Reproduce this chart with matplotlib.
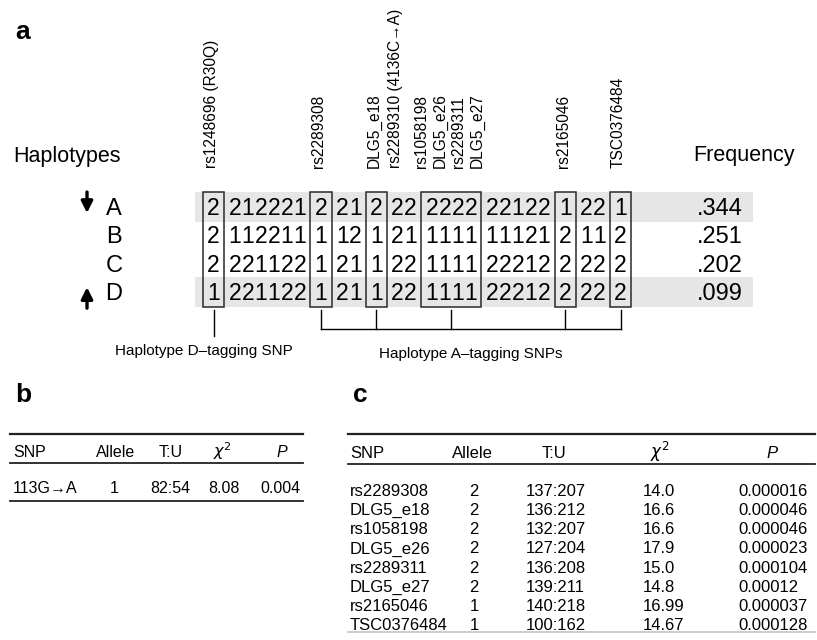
import matplotlib
matplotlib.use('Agg')
import matplotlib.pyplot as plt
from matplotlib.patches import Rectangle

plt.rcParams['font.family'] = ['Liberation Sans', 'DejaVu Sans']

# ---- panel a data ----
hap_names = ['A', 'B', 'C', 'D']
hap_alleles = ['2 212221 2 21 2 22 2222 22122 1 22 1',
               '2 112211 1 12 1 21 1111 11121 2 11 2',
               '2 221122 1 21 1 22 1111 22212 2 22 2',
               '1 221122 1 21 1 22 1111 22212 2 22 2']
hap_freq = ['.344', '.251', '.202', '.099']
hap_shaded = ['A', 'D']
hap_arrow = {'A': 'down', 'D': 'up'}
boxed_groups = [0, 2, 4, 6, 8, 10]
d_tag_groups = [0]
a_tag_groups = [2, 4, 6, 8, 10]
snp_labels = ['rs1248696 (R30Q)', 'rs2289308', 'DLG5_e18', 'rs2289310 (4136C\u2192A)',
              'rs1058198', 'DLG5_e26', 'rs2289311', 'DLG5_e27', 'rs2165046', 'TSC0376484']
snp_cols = [0, 7, 10, 11, 13, 14, 15, 16, 22, 25]

# ---- panel b data ----
b_header = ['SNP', 'Allele', 'T:U', r'$\chi^2$', 'P']
b_row = ['113G\u2192A', '1', '82:54', '8.08', '0.004']

# ---- panel c data ----
c_header = ['SNP', 'Allele', 'T:U', r'$\chi^2$', 'P']
c_snp = ['rs2289308', 'DLG5_e18', 'rs1058198', 'DLG5_e26', 'rs2289311', 'DLG5_e27',
         'rs2165046', 'TSC0376484']
c_allele = ['2', '2', '2', '2', '2', '2', '1', '1']
c_tu = ['137:207', '136:212', '132:207', '127:204', '136:208', '139:211', '140:218', '100:162']
c_chi2 = ['14.0', '16.6', '16.6', '17.9', '15.0', '14.8', '16.99', '14.67']
c_p = ['0.000016', '0.000046', '0.000046', '0.000023', '0.000104', '0.00012', '0.000037', '0.000128']

fig = plt.figure(figsize=(8.17, 6.4), dpi=100)
ax = fig.add_axes([0, 0, 1, 1])
ax.set_xlim(0, 817)
ax.set_ylim(640, 0)
ax.axis('off')

# ---------------- panel a ----------------
ax.text(15, 39, 'a', fontsize=19, fontweight='bold', va='baseline')
ax.text(13, 162, 'Haplotypes', fontsize=15.5, va='baseline')
ax.text(693, 161, 'Frequency', fontsize=15.5, va='baseline')

dw, pad, x0 = 13.0, 8.2, 203
row_y0, row_dy = 207, 28.4
groups = hap_alleles[0].split()
group_left, group_w, col_x = [], [], []
cur = x0
for g in groups:
    w = len(g) * dw + pad
    group_left.append(cur)
    group_w.append(w)
    for k in range(len(g)):
        col_x.append(cur + pad / 2 + dw * (k + 0.5))
    cur += w
row_y = [row_y0 + i * row_dy for i in range(len(hap_names))]
box_top, box_bot = row_y[0] - 15, row_y[-1] + 15

for name, y in zip(hap_names, row_y):
    if name in hap_shaded:
        ax.add_patch(Rectangle((195, y - 15), 558, 30, facecolor='#e6e6e6',
                               edgecolor='none', zorder=0))

for i, (name, alle, fr) in enumerate(zip(hap_names, hap_alleles, hap_freq)):
    y = row_y[i]
    ax.text(114, y + 8, name, fontsize=17, ha='center', va='baseline')
    digits = alle.replace(' ', '')
    for c, d in enumerate(digits):
        ax.text(col_x[c], y + 8, d, fontsize=16.5, ha='center', va='baseline')
    ax.text(720, y + 8, fr, fontsize=17, ha='center', va='baseline')
    if name in hap_arrow:
        if hap_arrow[name] == 'down':
            tail, head = y - 15, y + 6
        else:
            tail, head = y + 16, y - 5
        ax.annotate('', xy=(87, head), xytext=(87, tail),
                    arrowprops=dict(arrowstyle='-|>', lw=2.4, color='black',
                                    mutation_scale=17, shrinkA=0, shrinkB=0))

for g in boxed_groups:
    ax.add_patch(Rectangle((group_left[g], box_top), group_w[g], box_bot - box_top,
                           facecolor='none', edgecolor='#2a2a2a', lw=1.1, zorder=3))

# SNP labels (spread crowded ones)
xs = [col_x[c] for c in snp_cols]
i = 0
while i < len(xs):
    j = i
    while j + 1 < len(xs) and xs[j + 1] - xs[j] < 16:
        j += 1
    if j > i:
        mid = (xs[i] + xs[j]) / 2
        for k in range(i, j + 1):
            xs[k] = mid + (k - (i + j) / 2) * 18.5
    i = j + 1
for x, lab in zip(xs, snp_labels):
    ax.text(x - 2, 168, lab, fontsize=11.2, rotation=90, ha='center', va='bottom')

# tagging brackets
centers = [group_left[g] + group_w[g] / 2 for g in range(len(groups))]
for g in d_tag_groups:
    ax.plot([centers[g], centers[g]], [box_bot + 3, 336], color='black', lw=1)
ax.text(centers[d_tag_groups[0]] - 10, 351, 'Haplotype D\u2013tagging SNP', fontsize=11,
        ha='center', va='center')
a_x = [centers[g] for g in a_tag_groups]
for x in a_x:
    ax.plot([x, x], [box_bot + 3, 329], color='black', lw=1)
ax.plot([a_x[0], a_x[-1]], [329, 329], color='black', lw=1)
ax.text((a_x[0] + a_x[-1]) / 2, 354, 'Haplotype A\u2013tagging SNPs', fontsize=11,
        ha='center', va='center')

# ---------------- panel b ----------------
ax.text(15, 402, 'b', fontsize=19, fontweight='bold', va='baseline')
ax.plot([10, 303], [434, 434], color='#222222', lw=1.6)
ax.plot([10, 303], [463, 463], color='#222222', lw=1.3)
ax.plot([10, 303], [501, 501], color='#222222', lw=1.3)
b_hx = [13, 116, 171, 222, 282]
b_dx = [13, 114, 170, 224, 280]
for k, (h, x) in enumerate(zip(b_header, b_hx)):
    ax.text(x, 457, h, fontsize=11.5, ha='left' if k == 0 else 'center', va='baseline',
            style='italic' if h == 'P' else 'normal')
for k, (v, x) in enumerate(zip(b_row, b_dx)):
    ax.text(x, 493, v, fontsize=11.5, ha='left' if k == 0 else 'center', va='baseline')

# ---------------- panel c ----------------
ax.text(353, 402, 'c', fontsize=19, fontweight='bold', va='baseline')
ax.plot([348, 815], [434, 434], color='#222222', lw=1.6)
ax.plot([348, 815], [464, 464], color='#222222', lw=1.3)
ax.plot([348, 815], [632, 632], color='#c8c8c8', lw=1.3)
c_hx = [350, 472, 554, 660, 772]
for k, (h, x) in enumerate(zip(c_header, c_hx)):
    ax.text(x, 458, h, fontsize=12, ha='left' if k == 0 else 'center', va='baseline',
            style='italic' if h == 'P' else 'normal')
c_cols = [c_snp, c_allele, c_tu, c_chi2, c_p]
c_dx = [350, 474, 526, 643, 738]
c_ha = ['left', 'center', 'left', 'left', 'left']
for col, x, ha in zip(c_cols, c_dx, c_ha):
    for r, v in enumerate(col):
        ax.text(x, 491 + r * 19.15 + 5, v, fontsize=12, ha=ha, va='baseline')

fig.savefig('out.png', dpi=100)
